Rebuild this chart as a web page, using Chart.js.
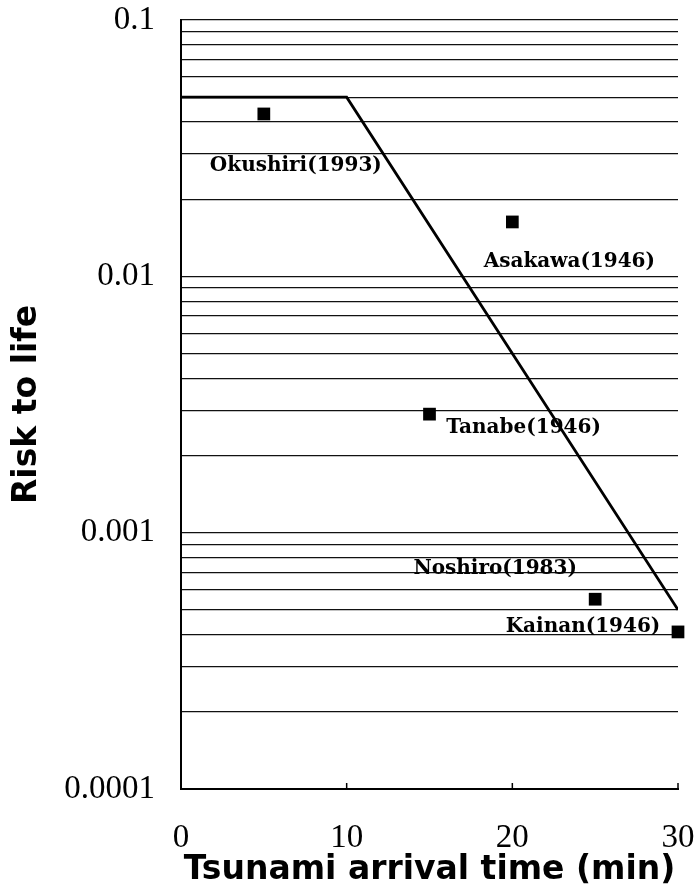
<!DOCTYPE html>
<html>
<head>
<meta charset="utf-8">
<script src="https://cdn.jsdelivr.net/npm/chart.js@4.4.0/dist/chart.umd.min.js"></script>
<style>
  html, body { margin: 0; padding: 0; background: #fff; }
  canvas { display: block; }
</style>
</head>
<body>
<canvas id="chart" width="699" height="895"></canvas>
<script>
// observed events
const eventNames = ['Okushiri(1993)', 'Asakawa(1946)', 'Tanabe(1946)', 'Noshiro(1983)', 'Kainan(1946)'];
const arrivalTimes = [5, 20, 15, 25, 30];
const riskValues = [0.043, 0.0163, 0.0029, 0.00055, 0.00041];

// risk curve
const curveTimes = [0, 10, 30];
const curveRisk = [0.05, 0.05, 0.0005];

// axis ticks
const xTicks = [0, 10, 20, 30];
const yTickValues = [
  0.0001, 0.0002, 0.0003, 0.0004, 0.0005, 0.0006, 0.0007, 0.0008, 0.0009,
  0.001, 0.002, 0.003, 0.004, 0.005, 0.006, 0.007, 0.008, 0.009,
  0.01, 0.02, 0.03, 0.04, 0.05, 0.06, 0.07, 0.08, 0.09,
  0.1
];
const yLabelValues = [0.0001, 0.001, 0.01, 0.1];
const yLabels = ['0.0001', '0.001', '0.01', '0.1'];

// label offsets from each marker, in pixels
const labelOffsets = [[32, 52], [57, 40], [94, 14], [-100, -30], [-95, -5]];

const pointLabels = {
  id: 'pointLabels',
  afterDatasetsDraw(chart) {
    const ctx = chart.ctx;
    const meta = chart.getDatasetMeta(1);
    ctx.save();
    ctx.font = 'bold 20px "DejaVu Serif"';
    ctx.fillStyle = '#000';
    ctx.textAlign = 'center';
    ctx.textBaseline = 'middle';
    meta.data.forEach((pt, i) => {
      ctx.fillText(eventNames[i], pt.x + labelOffsets[i][0], pt.y + labelOffsets[i][1]);
    });
    ctx.restore();
  }
};

const innerTicks = {
  id: 'innerTicks',
  afterDraw(chart) {
    const ctx = chart.ctx;
    const x = chart.scales.x;
    const bottom = chart.chartArea.bottom;
    ctx.save();
    ctx.strokeStyle = '#000';
    ctx.lineWidth = 1.5;
    xTicks.slice(1).forEach(v => {
      const px = x.getPixelForValue(v);
      ctx.beginPath();
      ctx.moveTo(px, bottom);
      ctx.lineTo(px, bottom - 6);
      ctx.stroke();
    });
    ctx.restore();
  }
};

function noPad(s) {
  s.paddingLeft = 0; s.paddingRight = 0; s.paddingTop = 0; s.paddingBottom = 0;
}

new Chart(document.getElementById('chart'), {
  type: 'scatter',
  data: {
    datasets: [{
      data: curveTimes.map((t, i) => ({x: t, y: curveRisk[i]})),
      showLine: true,
      borderColor: '#000',
      borderWidth: 2.8,
      pointRadius: 0,
      tension: 0
    }, {
      data: arrivalTimes.map((t, i) => ({x: t, y: riskValues[i]})),
      pointStyle: 'rect',
      pointRadius: 9,
      pointBorderWidth: 0,
      backgroundColor: '#000',
      borderColor: '#000',
      clip: false
    }]
  },
  options: {
    responsive: false,
    animation: false,
    layout: {padding: {top: 20, right: 21, left: 0, bottom: 0}},
    plugins: {legend: {display: false}, tooltip: {enabled: false}},
    scales: {
      x: {
        type: 'linear',
        min: 0,
        max: 30,
        afterBuildTicks: s => { s.ticks = xTicks.map(v => ({value: v})); },
        afterFit: s => { s.height = 106; noPad(s); },
        grid: {display: false, drawTicks: false},
        border: {display: true, color: '#000', width: 2},
        ticks: {
          color: '#000',
          padding: 30,
          maxRotation: 0,
          font: {family: '"Liberation Serif"', size: 33}
        },
        title: {
          display: true,
          text: 'Tsunami arrival time (min)',
          color: '#000',
          padding: {top: 0, bottom: 5},
          font: {family: '"DejaVu Sans"', size: 33, weight: 'bold'}
        }
      },
      y: {
        type: 'logarithmic',
        min: 0.0001,
        max: 0.1,
        afterBuildTicks: s => { s.ticks = yTickValues.map(v => ({value: v})); },
        afterFit: s => { s.width = 181; noPad(s); },
        grid: {color: '#111', lineWidth: 1.3, drawTicks: false},
        border: {display: true, color: '#000', width: 2},
        ticks: {
          color: '#000',
          padding: 26,
          autoSkip: false,
          font: {family: '"Liberation Serif"', size: 33},
          callback: v => {
            const k = yLabelValues.indexOf(v);
            return k >= 0 ? yLabels[k] : '';
          }
        },
        title: {
          display: true,
          text: 'Risk to life',
          color: '#000',
          padding: {top: 8, bottom: 0},
          font: {family: '"DejaVu Sans"', size: 33, weight: 'bold'}
        }
      }
    }
  },
  plugins: [pointLabels, innerTicks]
});
</script>
</body>
</html>
